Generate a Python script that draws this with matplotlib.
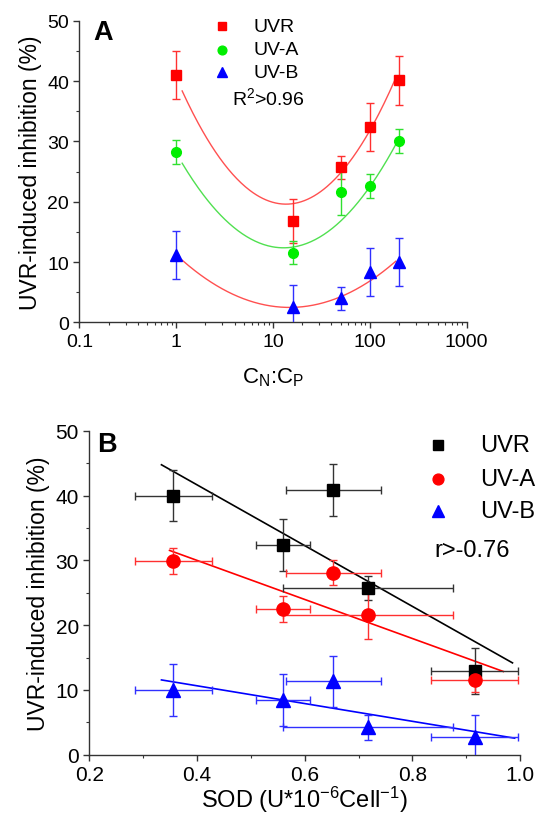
import numpy as np
import matplotlib
matplotlib.use("Agg")
from matplotlib import pyplot as plt
from matplotlib.ticker import FixedLocator, NullFormatter, LogLocator

plt.rcParams['font.family'] = ['Liberation Sans', 'DejaVu Sans']
plt.rcParams['mathtext.default'] = 'regular'

# ---- panel A data: C_N:C_P ratio
cncp = [1, 16, 50, 100, 200]
uvrA = [41.0, 16.8, 25.7, 32.4, 40.1]
uvrA_err = [3.9, 3.7, 1.9, 4.0, 4.0]
uvaA = [28.2, 11.5, 21.6, 22.6, 30.0]
uvaA_err = [2.0, 1.9, 3.8, 2.0, 2.0]
uvbA = [11.2, 2.6, 4.0, 8.4, 10.0]
uvbA_err = [4.0, 3.6, 1.9, 4.0, 4.0]
fitA_range = [1.15, 185]

# ---- panel B data: SOD activity
sod = [0.356, 0.560, 0.653, 0.718, 0.916]
sod_err = [0.072, 0.050, 0.088, 0.158, 0.081]
uvrB = [40.0, 32.4, 40.85, 25.7, 12.9]
uvrB_err = [4.0, 4.0, 4.0, 1.9, 3.6]
uvaB = [29.9, 22.5, 28.1, 21.6, 11.6]
uvaB_err = [2.0, 2.0, 1.9, 3.8, 1.9]
uvbB = [10.0, 8.5, 11.3, 4.2, 2.7]
uvbB_err = [4.0, 4.0, 4.0, 2.0, 3.5]
fitB_range = {'UVR': [0.334, 0.986], 'UV-A': [0.349, 0.969], 'UV-B': [0.334, 0.990]}

fig = plt.figure(figsize=(5.4, 8.2), dpi=100)

def style_axes(ax, lsize):
    for s in ['top', 'right']:
        ax.spines[s].set_visible(False)
    for s in ['left', 'bottom']:
        ax.spines[s].set_linewidth(1.0)
        ax.spines[s].set_color('#333333')
    ax.tick_params(which='major', direction='out', length=4, width=1, colors='#333333',
                   labelcolor='black', labelsize=lsize)
    ax.tick_params(which='minor', direction='out', length=2.5, width=0.8, colors='#333333')

# ================= Panel A =================
axA = fig.add_axes([0.1472, 0.6057, 0.7171, 0.3678])
style_axes(axA, 14)
axA.set_xscale('log')
axA.set_xlim(0.1, 1000)
axA.set_ylim(0, 50)

xs = np.logspace(np.log10(fitA_range[0]), np.log10(fitA_range[1]), 200)
seriesA = [
    ('UVR', uvrA, uvrA_err, 's', '#ff0000', '#ff3030', '#ff5050', 6.5),
    ('UV-A', uvaA, uvaA_err, 'o', '#00ee00', '#30e030', '#50e050', 7),
    ('UV-B', uvbA, uvbA_err, '^', '#0000ff', '#3030ff', '#ff5050', 8.5),
]
for name, y, e, m, c, ec, fc, ms in seriesA:
    # weighted quadratic fit in log10(C_N:C_P)
    coef = np.polyfit(np.log10(cncp), y, 2, w=1.0 / np.array(e))
    axA.plot(xs, np.polyval(coef, np.log10(xs)), color=fc, lw=1.0, zorder=2)
    axA.errorbar(cncp, y, yerr=e, fmt=m, color=c, ecolor=ec, elinewidth=1.0,
                 capsize=3, capthick=1.0, ms=ms, mec=c, zorder=3)

axA.xaxis.set_major_locator(FixedLocator([0.1, 1, 10, 100, 1000]))
axA.set_xticklabels(['0.1', '1', '10', '100', '1000'])
axA.xaxis.set_minor_locator(LogLocator(base=10, subs=np.arange(2, 10)))
axA.xaxis.set_minor_formatter(NullFormatter())
axA.set_yticks([0, 10, 20, 30, 40, 50])
axA.set_yticks([5, 15, 25, 35, 45], minor=True)
axA.set_ylabel('UVR-induced inhibition (%)', fontsize=16.5, labelpad=4)
axA.set_xlabel('C$_N$:C$_P$', fontsize=16, labelpad=11)
axA.text(0.035, 1.006, 'A', transform=axA.transAxes, fontsize=19.5, fontweight='bold',
         va='top', ha='left')

# legend A (drawn by hand as in the original)
legA_y = [0.981, 0.904, 0.829]
for (name, y, e, m, c, ec, fc, ms), ly in zip(seriesA, legA_y):
    axA.plot([0.368], [ly], m, color=c, ms=ms * 0.9, transform=axA.transAxes, clip_on=False)
    axA.text(0.449, ly, name, transform=axA.transAxes, fontsize=14, va='center', ha='left')
axA.text(0.393, 0.746, 'R$^2$>0.96', transform=axA.transAxes, fontsize=14,
         va='center', ha='left')

# ================= Panel B =================
axB = fig.add_axes([0.1654, 0.0784, 0.7976, 0.3951])
style_axes(axB, 15)
axB.set_xlim(0.2, 1.0)
axB.set_ylim(0, 50)

seriesB = [
    ('UVR', uvrB, uvrB_err, 's', '#000000', '#333333', 9),
    ('UV-A', uvaB, uvaB_err, 'o', '#ff0000', '#ff3030', 9.5),
    ('UV-B', uvbB, uvbB_err, '^', '#0000ff', '#3030ff', 10.5),
]
for name, y, e, m, c, ec, ms in seriesB:
    coef = np.polyfit(sod, y, 1)
    xr = np.array(fitB_range[name])
    axB.plot(xr, np.polyval(coef, xr), color=c, lw=1.2, zorder=2)
    axB.errorbar(sod, y, xerr=sod_err, yerr=e, fmt=m, color=c, ecolor=ec, elinewidth=1.0,
                 capsize=3, capthick=1.0, ms=ms, mec=c, zorder=3)

axB.set_xticks([0.2, 0.4, 0.6, 0.8, 1.0])
axB.set_xticklabels(['0.2', '0.4', '0.6', '0.8', '1.0'])
axB.set_xticks([0.3, 0.5, 0.7, 0.9], minor=True)
axB.set_yticks([0, 10, 20, 30, 40, 50])
axB.set_yticks([5, 15, 25, 35, 45], minor=True)
axB.set_ylabel('UVR-induced inhibition (%)', fontsize=16.5, labelpad=4)
axB.set_xlabel('SOD (U*10$^{-6}$Cell$^{-1}$)', fontsize=17, labelpad=0)
axB.text(0.018, 1.0, 'B', transform=axB.transAxes, fontsize=19.5, fontweight='bold',
         va='top', ha='left')

legB_y = [0.956, 0.851, 0.753]
for (name, y, e, m, c, ec, ms), ly in zip(seriesB, legB_y):
    axB.plot([0.810], [ly], m, color=c, ms=ms * 0.82, transform=axB.transAxes, clip_on=False)
    axB.text(0.907, ly, name, transform=axB.transAxes, fontsize=17, va='center', ha='left')
axB.text(0.800, 0.633, 'r>-0.76', transform=axB.transAxes, fontsize=17,
         va='center', ha='left')

fig.savefig('out.png', dpi=100)
